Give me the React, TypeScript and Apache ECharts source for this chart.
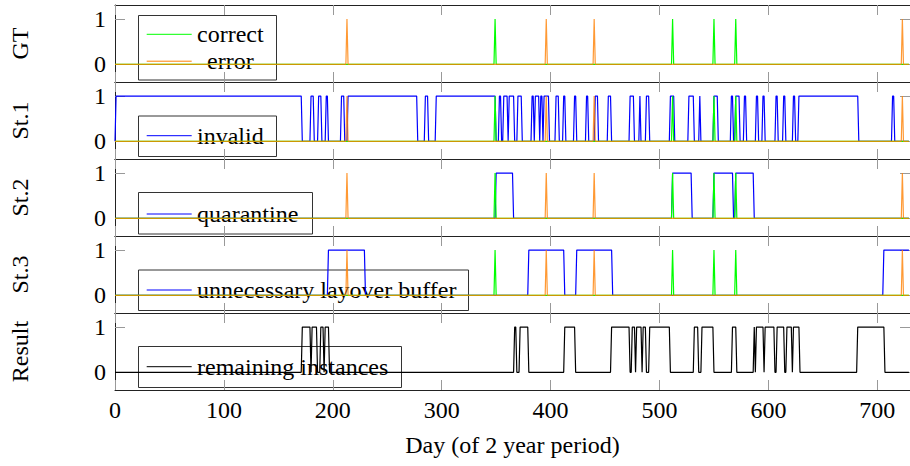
import React, { useEffect, useRef } from "react";
import * as echarts from "echarts";

// ---------- data ----------
const DAYS = 730;
const xTicks = [0, 100, 200, 300, 400, 500, 600, 700];
const yTicks = [0, 1];
const panelNames = ["GT", "St.1", "St.2", "St.3", "Result"];

// GT events (single days)
const correctDays = [349, 512, 550, 570];
const errorDays = [213, 396, 440, 723];

// periods (start day, end day) where the signal is 1
const invalidIntervals: [number, number][] = [
  [1, 171], [180, 182], [187, 189], [194, 195], [208, 210], [214, 277],
  [285, 287], [295, 349], [353, 354], [357, 360], [362, 366], [370, 373],
  [383, 384], [386, 389], [391, 392], [394, 398], [405, 407], [412, 413],
  [422, 423], [433, 434], [441, 443], [453, 455], [473, 476], [482, 482],
  [488, 490], [510, 513], [527, 531], [537, 537], [550, 553], [566, 567],
  [570, 573], [578, 579], [589, 590], [595, 596], [607, 608], [614, 615],
  [623, 624], [628, 682], [714, 715],
];
const quarantineIntervals: [number, number][] = [
  [350, 365], [512, 529], [550, 567], [570, 586],
];
const layoverIntervals: [number, number][] = [
  [196, 229], [380, 412], [424, 456], [706, 729],
];
const remainingIntervals: [number, number][] = [
  [172, 179], [181, 185], [189, 191], [193, 196], [367, 368], [372, 379],
  [413, 422], [456, 472], [475, 477], [479, 483], [485, 487], [491, 509],
  [532, 535], [539, 549], [567, 570], [587, 587], [589, 595], [597, 605],
  [608, 614], [617, 621], [623, 628], [682, 706],
];

// expand periods into a daily 0/1 signal
function daily(intervals: [number, number][]): [number, number][] {
  const out: [number, number][] = [];
  for (let d = 0; d < DAYS; d++) {
    let v = 0;
    for (const [a, b] of intervals) if (d >= a && d <= b) v = 1;
    out.push([d, v]);
  }
  return out;
}
const asPeriods = (days: number[]): [number, number][] => days.map((d) => [d, d]);

// ---------- styling ----------
const FONT = "Liberation Serif";
const FS = 24;
const GREEN = "#00ff00";
const ORANGE = "#ff8000";
const BLUE = "#0000ff";
const BLACK = "#000000";

const panelTop = [5, 82, 159, 236, 313];
const PANEL_H = 77;
const GRID_LEFT = 113.3;
const GRID_W = 803;

function buildOption() {
  const grid = panelTop.map((t) => ({
    left: GRID_LEFT, top: t, width: GRID_W, height: PANEL_H, show: false,
  }));
  const xAxis: any[] = [];
  const yAxis: any[] = [];
  panelTop.forEach((_, i) => {
    const base = {
      gridIndex: i, type: "value", min: 0, max: DAYS,
      axisLine: { show: true, onZero: false, lineStyle: { color: "#222", width: 1 } },
      axisTick: { show: true, inside: true, length: 10, customValues: xTicks, lineStyle: { color: "#999", width: 1 } },
      splitLine: { show: false },
    };
    xAxis.push({
      ...base, position: "bottom",
      axisLabel: { show: i === 4, customValues: xTicks, margin: 8, color: "#000", fontFamily: FONT, fontSize: FS },
      name: i === 4 ? "Day (of 2 year period)" : "",
      nameLocation: "middle", nameGap: 43,
      nameTextStyle: { color: "#000", fontFamily: FONT, fontSize: FS },
    });
    xAxis.push({ ...base, position: "top", axisLabel: { show: false } });

    const ybase = {
      gridIndex: i, type: "value", min: -0.39, max: 1.31,
      axisLine: { show: true, onZero: false, lineStyle: { color: "#222", width: 1 } },
      axisTick: { show: true, inside: true, length: 10, customValues: yTicks, lineStyle: { color: "#999", width: 1 } },
      splitLine: { show: false },
    };
    yAxis.push({
      ...ybase, position: "left",
      axisLabel: { show: true, customValues: yTicks, margin: 9, color: "#000", fontFamily: FONT, fontSize: FS },
      name: panelNames[i], nameLocation: "middle", nameGap: 83, nameRotate: 90,
      nameTextStyle: { color: "#000", fontFamily: FONT, fontSize: FS },
    });
    yAxis.push({ ...ybase, position: "right", axisLabel: { show: false } });
  });

  const line = (name: string, i: number, data: [number, number][], color: string, opacity = 1) => ({
    type: "line", name, xAxisIndex: 2 * i, yAxisIndex: 2 * i, data,
    symbol: "none", silent: true, animation: false,
    lineStyle: { color, width: 1.2, opacity },
    itemStyle: { color },
  });
  const correct = daily(asPeriods(correctDays));
  const error = daily(asPeriods(errorDays));
  const series: any[] = [
    line("correct", 0, correct, GREEN),
    line("error", 0, error, ORANGE, 0.8),
    line("invalid", 1, daily(invalidIntervals), BLUE),
    line("correct", 1, correct, GREEN),
    line("error", 1, error, ORANGE, 0.8),
    line("quarantine", 2, daily(quarantineIntervals), BLUE),
    line("correct", 2, correct, GREEN),
    line("error", 2, error, ORANGE, 0.8),
    line("unnecessary layover buffer", 3, daily(layoverIntervals), BLUE),
    line("correct", 3, correct, GREEN),
    line("error", 3, error, ORANGE, 0.8),
    line("remaining instances", 4, daily(remainingIntervals), BLACK),
  ];

  // legend boxes
  const legendBox = (x: number, y: number, w: number, h: number, items: { label: string; color: string; ly: number; tx: number }[]) => ({
    type: "group", z: 100,
    children: [
      { type: "rect", shape: { x, y, width: w, height: h }, style: { fill: "#fff", stroke: "#333", lineWidth: 1 } },
      ...items.flatMap((it) => [
        { type: "line", shape: { x1: 146.7, y1: it.ly, x2: 191.7, y2: it.ly }, style: { stroke: it.color, lineWidth: 1 } },
        { type: "text", x: it.tx, y: it.ly, style: { text: it.label, fill: "#000", font: `${FS}px '${FONT}'`, verticalAlign: "middle", align: "left" } },
      ]),
    ],
  });
  const graphic = [
    legendBox(138.5, 15.5, 138, 64.5, [
      { label: "correct", color: GREEN, ly: 34.3, tx: 197 },
      { label: "error", color: ORANGE, ly: 61.2, tx: 207 },
    ]),
    legendBox(138.5, 116, 138, 40.5, [{ label: "invalid", color: BLUE, ly: 135.7, tx: 197 }]),
    legendBox(138.5, 192.5, 174, 41.5, [{ label: "quarantine", color: BLUE, ly: 214, tx: 197 }]),
    legendBox(138.5, 270, 330, 40.5, [{ label: "unnecessary layover buffer", color: BLUE, ly: 290, tx: 197 }]),
    legendBox(138.5, 346.5, 263, 41, [{ label: "remaining instances", color: BLACK, ly: 366.7, tx: 197 }]),
  ];

  return { animation: false, grid, xAxis, yAxis, series, graphic };
}

export default function App() {
  const ref = useRef<HTMLDivElement>(null);
  useEffect(() => {
    if (!ref.current) return;
    const chart = echarts.init(ref.current, undefined, { renderer: "svg" });
    chart.setOption(buildOption() as any);
    return () => chart.dispose();
  }, []);
  return (
    <div
      ref={ref}
      style={{ position: "fixed", left: 0, top: 0, width: 910, height: 466, background: "#fff" }}
    />
  );
}
